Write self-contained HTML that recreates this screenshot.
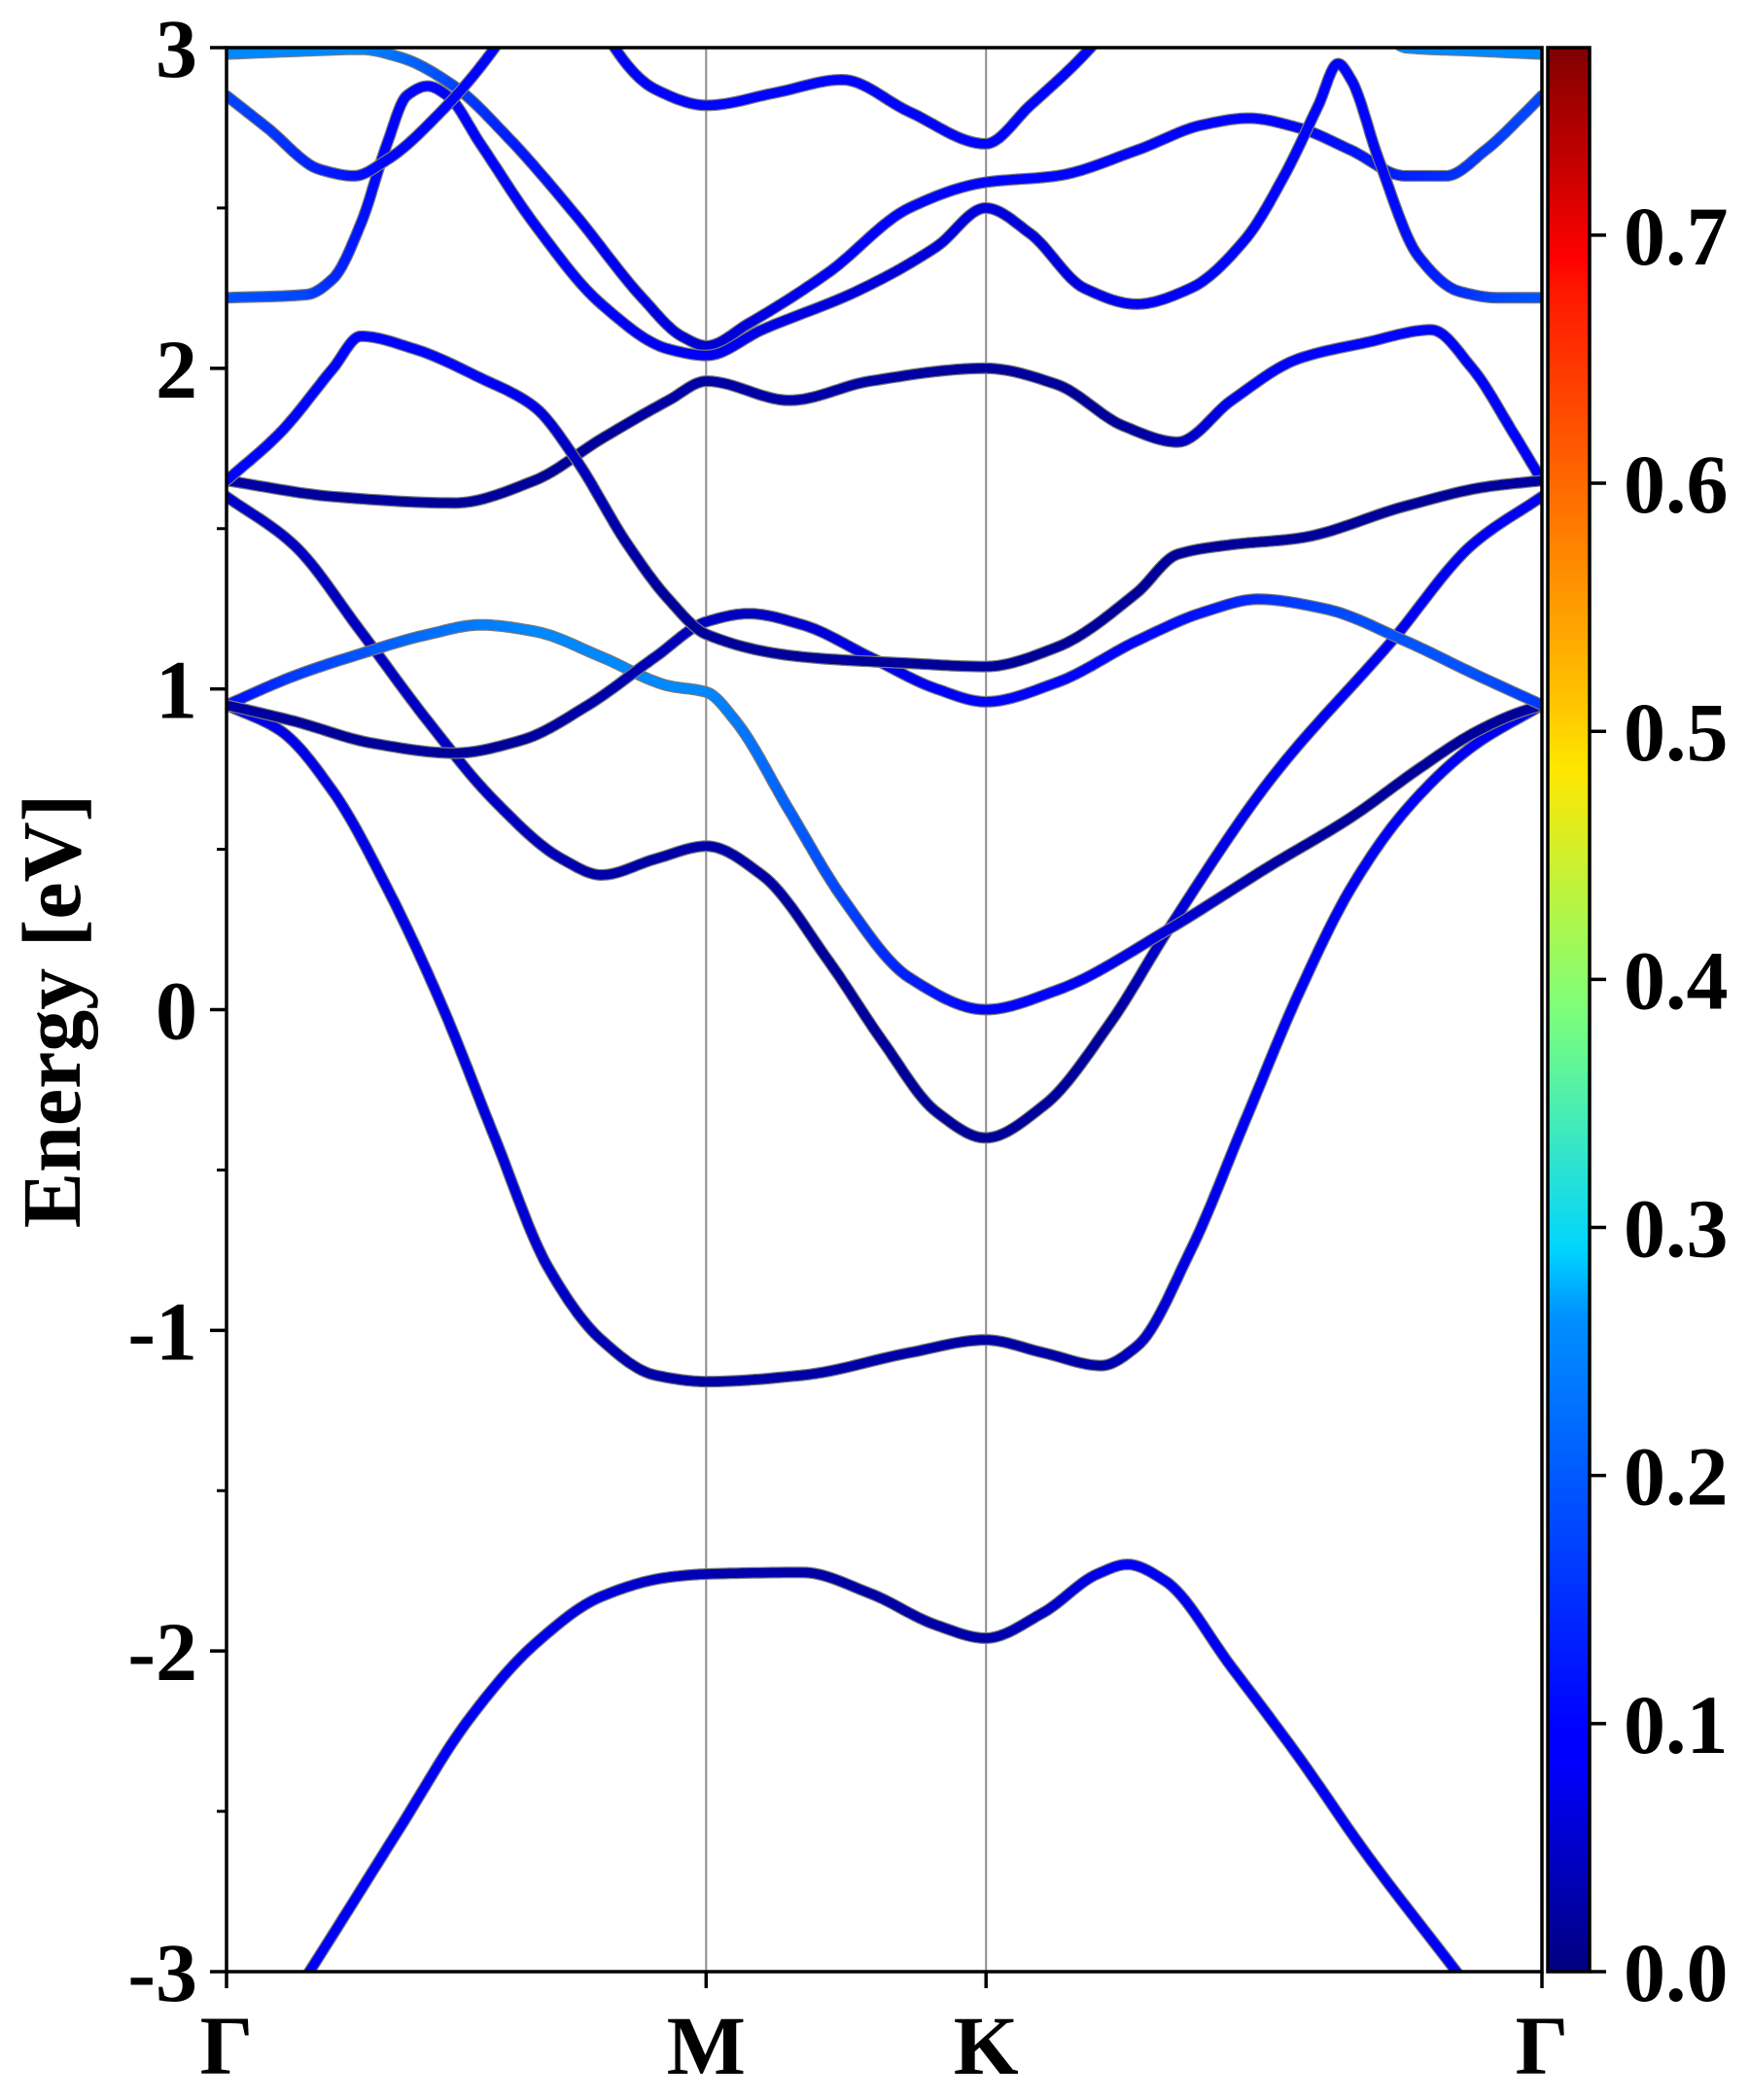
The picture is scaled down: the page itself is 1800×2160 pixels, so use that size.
<!DOCTYPE html>
<html><head><meta charset="utf-8">
<style>
html,body{margin:0;padding:0;background:#fff;}
svg{display:block;}
text{font-family:"Liberation Serif","Times New Roman",serif;font-weight:bold;fill:#000;}
</style></head>
<body>
<svg id="chart" width="1800" height="2160" viewBox="0 0 1800 2160" xmlns="http://www.w3.org/2000/svg">
<defs>
<clipPath id="plotClip"><rect x="233" y="49" width="1353" height="1979"/></clipPath>
<linearGradient id="jetGrad" x1="0" y1="1" x2="0" y2="0">
<stop offset="0" stop-color="#000080"/><stop offset="0.11" stop-color="#0000ff"/>
<stop offset="0.125" stop-color="#0000ff"/><stop offset="0.34" stop-color="#0090ff"/>
<stop offset="0.375" stop-color="#00d4ff"/><stop offset="0.5" stop-color="#7dff7a"/>
<stop offset="0.625" stop-color="#ffe600"/><stop offset="0.66" stop-color="#ffc400"/>
<stop offset="0.875" stop-color="#ff1600"/><stop offset="0.89" stop-color="#ff0000"/>
<stop offset="1" stop-color="#800000"/>
</linearGradient>
</defs>
<g id="grid"></g>
<g id="bands" clip-path="url(#plotClip)"></g>
<g id="axes"></g>
</svg>
<script>
// ---- data ----
const kTickLabels = ["Γ","M","K","Γ"];
const kTickPos = [0, 0.3646, 0.5774, 1];
const yTickVals = [3,2,1,0,-1,-2,-3];
const yMinorVals = [2.5,1.5,0.5,-0.5,-1.5,-2.5];
const cbTickVals = [0.0,0.1,0.2,0.3,0.4,0.5,0.6,0.7];
const cbMax = 0.7756;

const band1K=[0,.063,.132,.183,.234,.285,.336,.365,.438,.489,.540,.577,.621,.662,.685,.713,.764,.815,.866,.935,1];
const band1E=[-3.4,-3.0,-2.55,-2.22,-1.98,-1.83,-1.77,-1.76,-1.755,-1.82,-1.92,-1.96,-1.88,-1.76,-1.73,-1.78,-2.05,-2.33,-2.63,-3.0,-3.35];
const band1W=[.09,.09,.09,.09,.08,.07,.05,.04,.03,.03,.03,.03,.05,.08,.09,.09,.09,.09,.09,.09,.09];

const band2K=[0,.041,.081,.122,.163,.204,.244,.285,.326,.365,.438,.519,.577,.621,.665,.692,.733,.774,.815,.855,.896,.947,1];
const band2E=[.95,.87,.68,.38,.02,-.4,-.8,-1.03,-1.14,-1.16,-1.14,-1.07,-1.03,-1.07,-1.11,-1.05,-.75,-.35,.05,.38,.62,.82,.95];
const band2W=[.08,.08,.08,.08,.08,.07,.06,.04,.03,.03,.03,.03,.03,.03,.03,.05,.08,.09,.09,.09,.09,.09,.09];

const band3K=[0,.051,.102,.153,.204,.255,.285,.326,.365,.407,.458,.499,.540,.577,.621,.672,.716,.794,.886,.947,1];
const band3E=[1.6,1.45,1.18,.9,.65,.47,.42,.47,.51,.42,.15,-.1,-.32,-.4,-.3,-.04,.25,.72,1.15,1.45,1.6];
const band3W=[.06,.05,.05,.05,.05,.04,.03,.03,.03,.03,.02,.02,.02,.02,.02,.02,.06,.09,.09,.09,.09];

const band4K=[0,.051,.102,.153,.193,.234,.285,.336,.365,.387,.428,.468,.519,.577,.631,.716,.794,.855,.906,.947,.978,1];
const band4E=[.95,1.04,1.11,1.17,1.2,1.18,1.1,1.01,.99,.9,.62,.35,.1,0,.06,.25,.45,.6,.75,.86,.92,.95];
const band4W=[.1,.14,.16,.18,.19,.2,.2,.2,.2,.19,.17,.15,.12,.1,.1,.07,.03,.02,.02,.02,.02,.03];

const band5K=[0,.051,.112,.173,.224,.275,.326,.365,.397,.438,.489,.540,.577,.631,.692,.743,.784,.835,.896,.947,1];
const band5E=[.95,.9,.83,.8,.84,.95,1.1,1.21,1.235,1.2,1.1,1.0,.96,1.02,1.15,1.24,1.28,1.25,1.15,1.05,.95];
const band5W=[.03,.02,.02,.02,.02,.03,.04,.05,.05,.06,.08,.09,.1,.1,.1,.11,.13,.15,.16,.16,.14];

const band6K=[0,.081,.173,.234,.285,.336,.365,.428,.489,.577,.631,.682,.723,.764,.815,.866,.916,.947,.978,1];
const band6E=[1.65,1.6,1.58,1.65,1.78,1.9,1.96,1.9,1.96,2.0,1.95,1.82,1.77,1.9,2.03,2.08,2.12,2.0,1.8,1.65];
const band6W=[.03,.02,.02,.02,.02,.03,.03,.03,.03,.02,.02,.02,.04,.09,.1,.1,.1,.1,.1,.09];

const band7K=[0,.041,.081,.102,.143,.193,.234,.265,.305,.336,.365,.438,.519,.577,.631,.692,.723,.764,.815,.896,.957,1];
const band7E=[1.65,1.8,2.0,2.1,2.06,1.97,1.88,1.72,1.45,1.28,1.17,1.1,1.08,1.07,1.13,1.3,1.42,1.45,1.47,1.57,1.63,1.65];
const band7W=[.1,.1,.1,.1,.1,.1,.08,.05,.03,.02,.02,.02,.02,.02,.02,.02,.02,.02,.02,.02,.02,.03];

const bandAK=[0,.061,.102,.132,.173,.214,.265,.316,.346,.365,.397,.458,.519,.577,.631,.692,.743,.777,.815,.855,.896,.927,.957,.988,1];
const bandAE=[2.98,2.99,2.995,2.97,2.88,2.72,2.48,2.22,2.1,2.07,2.14,2.3,2.5,2.58,2.6,2.68,2.76,2.78,2.75,2.68,2.6,2.6,2.68,2.8,2.85];
const bandAW=[.2,.2,.2,.18,.15,.12,.1,.08,.07,.06,.07,.09,.1,.1,.1,.1,.1,.1,.1,.11,.12,.13,.14,.15,.15];

const bandBK=[0,.061,.081,.102,.122,.137,.153,.168,.193,.234,.285,.336,.365,.407,.479,.540,.577,.611,.652,.692,.733,.774,.804,.830,.845,.855,.876,.906,.937,.967,1];
const bandBE=[2.22,2.23,2.28,2.45,2.7,2.85,2.88,2.85,2.7,2.45,2.2,2.06,2.04,2.12,2.24,2.38,2.5,2.42,2.25,2.2,2.25,2.4,2.6,2.82,2.95,2.9,2.65,2.35,2.24,2.22,2.22];
const bandBW=[.16,.15,.13,.11,.1,.1,.1,.1,.1,.1,.1,.09,.09,.08,.07,.07,.07,.07,.08,.09,.1,.1,.1,.1,.1,.1,.1,.11,.13,.15,.16];

const bandCK=[0,.031,.071,.097,.122,.163,.204,.234,.275,.295,.326,.365,.418,.468,.519,.577,.611,.657,.713,.845,.896,.947,1];
const bandCE=[2.85,2.75,2.62,2.6,2.65,2.8,3.0,3.2,3.2,3.0,2.87,2.82,2.86,2.9,2.8,2.7,2.82,3.0,3.3,3.3,3.0,2.99,2.98];
const bandCW=[.15,.14,.12,.11,.1,.1,.1,.1,.1,.1,.1,.1,.1,.1,.1,.1,.1,.1,.1,.2,.2,.2,.2];

const bandsK=[band1K,band2K,band3K,band4K,band5K,band6K,band7K,bandAK,bandBK,bandCK];
const bandsE=[band1E,band2E,band3E,band4E,band5E,band6E,band7E,bandAE,bandBE,bandCE];
const bandsW=[band1W,band2W,band3W,band4W,band5W,band6W,band7W,bandAW,bandBW,bandCW];

// ---- scales ----
const PL=233, PR=1586, PT=49, PB=2028, EMIN=-3, EMAX=3;
function xS(k){return PL+k*(PR-PL);}
function yS(e){return PB-(e-EMIN)/(EMAX-EMIN)*(PB-PT);}
const CBL=1592, CBR=1635;
function cbY(v){return PB-v/cbMax*(PB-PT);}
function clip01(v){return Math.max(0,Math.min(1,v));}
function jet(v){
  const x=clip01(v/cbMax);
  const r=clip01(1.5-Math.abs(4*x-3)), g=clip01(1.5-Math.abs(4*x-2)), b=clip01(1.5-Math.abs(4*x-1));
  return 'rgb('+Math.round(r*255)+','+Math.round(g*255)+','+Math.round(b*255)+')';
}
const NS='http://www.w3.org/2000/svg';
function mk(tag,attrs,parent){const el=document.createElementNS(NS,tag);for(const a in attrs)el.setAttribute(a,attrs[a]);parent.appendChild(el);return el;}

// monotone cubic (Fritsch-Carlson) tangents
function tangents(K,E){
  const n=K.length, d=[], m=new Array(n);
  for(let i=0;i<n-1;i++)d.push((E[i+1]-E[i])/(K[i+1]-K[i]));
  m[0]=d[0]; m[n-1]=d[n-2];
  for(let i=1;i<n-1;i++){
    if(d[i-1]*d[i]<=0){m[i]=0;}
    else{
      const h0=K[i]-K[i-1], h1=K[i+1]-K[i];
      const w1=2*h1+h0, w2=h1+2*h0;
      m[i]=(w1+w2)/(w1/d[i-1]+w2/d[i]);
    }
  }
  return m;
}

// ---- grid (high-symmetry lines) ----
const grid=document.getElementById('grid');
[1,2].forEach(function(i){
  const l=mk('line',{x1:xS(kTickPos[i]),x2:xS(kTickPos[i]),y1:PT,y2:PB,stroke:'#8c8c8c','stroke-width':2},grid);
  
  
});

// ---- bands ----
const bandsG=document.getElementById('bands');
bandsK.forEach(function(K,bi){
  const E=bandsE[bi], W=bandsW[bi];
  const m=tangents(K,E);
  const g=mk('g',{},bandsG);
  
  
  const pts=[];
  for(let i=0;i<K.length-1;i++){
    const h=K[i+1]-K[i];
    const n=16;
    for(let s=0;s<n;s++){
      const t=s/n,t2=t*t,t3=t2*t;
      const e=(2*t3-3*t2+1)*E[i]+(t3-2*t2+t)*h*m[i]+(-2*t3+3*t2)*E[i+1]+(t3-t2)*h*m[i+1];
      pts.push([K[i]+h*t,e,W[i]+(W[i+1]-W[i])*t]);
    }
  }
  pts.push([K[K.length-1],E[E.length-1],W[W.length-1]]);
  let d='M'+xS(pts[0][0]).toFixed(1)+','+yS(pts[0][1]).toFixed(1);
  for(let j=1;j<pts.length;j++)d+='L'+xS(pts[j][0]).toFixed(1)+','+yS(pts[j][1]).toFixed(1);
  mk('path',{d:d,fill:'none',stroke:'#7a7a7a','stroke-width':12,'stroke-linejoin':'round','stroke-linecap':'round'},g);
  for(let j=0;j<pts.length-1;j++){
    mk('line',{x1:xS(pts[j][0]).toFixed(1),y1:yS(pts[j][1]).toFixed(1),x2:xS(pts[j+1][0]).toFixed(1),y2:yS(pts[j+1][1]).toFixed(1),stroke:jet((pts[j][2]+pts[j+1][2])/2),'stroke-width':9.5,'stroke-linecap':'round'},g);
  }
});

// ---- axes ----
const FF='"Liberation Serif","Times New Roman",serif';
const ax=document.getElementById('axes');
const frame=mk('rect',{x:PL,y:PT,width:PR-PL,height:PB-PT,fill:'none',stroke:'#000','stroke-width':3.5},ax);


yTickVals.forEach(function(v){
  const y=yS(v);
  mk('line',{x1:PL-17,x2:PL,y1:y,y2:y,stroke:'#000','stroke-width':3.5},ax);
  const t=mk('text',{x:203,y:y+30,'text-anchor':'end','font-size':86,'font-family':FF,'font-weight':'bold'},ax);
  t.textContent=String(v);
  
  
});
yMinorVals.forEach(function(v){
  const y=yS(v);
  mk('line',{x1:PL-10,x2:PL,y1:y,y2:y,stroke:'#000','stroke-width':3},ax);
});
kTickPos.forEach(function(k,i){
  const x=xS(k);
  mk('line',{x1:x,x2:x,y1:PB,y2:PB+17,stroke:'#000','stroke-width':3.5},ax);
  const t=mk('text',{x:x,y:2133,'text-anchor':'middle','font-size':86,'font-family':FF,'font-weight':'bold'},ax);
  t.textContent=kTickLabels[i];
  
  
});
const yl=mk('text',{x:0,y:0,'text-anchor':'middle','font-size':86,'font-family':FF,'font-weight':'bold',transform:'translate(82,1040) rotate(-90)'},ax);
yl.textContent='Energy [eV]';



// ---- colorbar ----
const cb=mk('rect',{x:CBL,y:PT,width:CBR-CBL,height:PB-PT,fill:'url(#jetGrad)',stroke:'#000','stroke-width':3.5},ax);


cbTickVals.forEach(function(v){
  const y=cbY(v);
  mk('line',{x1:CBR,x2:CBR+17,y1:y,y2:y,stroke:'#000','stroke-width':3.5},ax);
  const t=mk('text',{x:1670,y:y+30,'font-size':86,'font-family':FF,'font-weight':'bold'},ax);
  t.textContent=v.toFixed(1);
  
  
});
</script>
</body></html>
